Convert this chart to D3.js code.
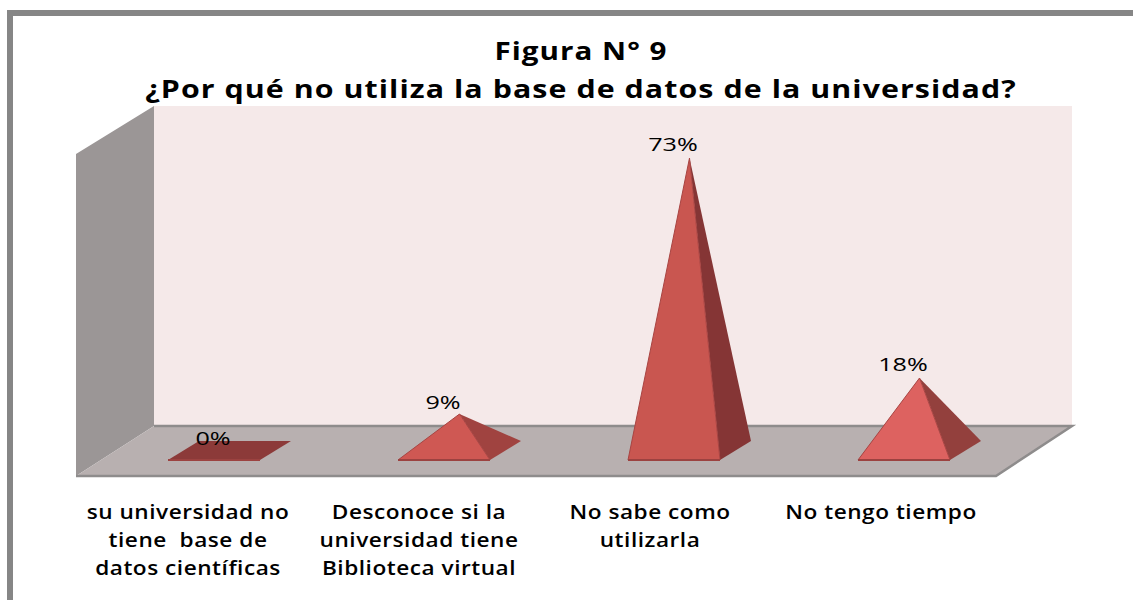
<!DOCTYPE html>
<html>
<head>
<meta charset="utf-8">
<script src="https://cdnjs.cloudflare.com/ajax/libs/d3/7.8.5/d3.min.js"></script>
<style>
  html, body { margin: 0; padding: 0; background: #fff; overflow: hidden; }
  text { font-family: "Open Sans", sans-serif; fill: #000; }
</style>
</head>
<body>
<div id="chart"></div>
<script>
var titleLines = ["Figura N° 9", "¿Por qué no utiliza la base de datos de la universidad?"];
var categories = ["cat1", "cat2", "cat3", "cat4"];
var categoryLabels = [
  ["su universidad no", "tiene  base de", "datos científicas"],
  ["Desconoce si la", "universidad tiene", "Biblioteca virtual"],
  ["No sabe como", "utilizarla"],
  ["No tengo tiempo"]
];
var values = [0, 9, 73, 18];
var frontColors = ["#8c3a39", "#cf5853", "#c95650", "#dd6260"];
var sideColors = ["#8c3a39", "#a04340", "#853535", "#93403d"];

(function() {
  var height = 600,
      width = 1133;

  var svg = d3.select("#chart")
        .append("svg")
        .attr("height", height)
        .attr("width", width)
        .style("display", "block");

  // outer frame runs off the right and bottom of the picture
  svg.append("rect")
    .attr("x", 10).attr("y", 13)
    .attr("width", 1140).attr("height", 620)
    .attr("fill", "#fff")
    .attr("stroke", "#868686")
    .attr("stroke-width", 6);

  var wall = { left: 154, right: 1072, top: 106, floor: 426 },
      front = { left: 76, right: 996, y: 476 },
      depthX = 31,
      depthY = -19;

  // x positions of the pyramid bases
  var x = d3.scaleBand()
    .domain(categories)
    .range([168, 950])
    .paddingInner(0.6)
    .paddingOuter(0);

  // labels sit under the front edge of the floor
  var xLabel = d3.scaleBand()
    .domain(categories)
    .range([72.5, 996.5]);

  var y = d3.scaleLinear()
    .domain([0, 73])
    .range([450, 158]);

  var line = d3.line();

  svg.append("path")
    .attr("d", line([[wall.left, wall.top], [wall.right, wall.top], [wall.right, wall.floor], [wall.left, wall.floor]]) + "Z")
    .attr("fill", "#f5e9e9");

  svg.append("path")
    .attr("d", line([[front.left, 154], [wall.left, wall.top], [wall.left, wall.floor], [front.left, front.y]]) + "Z")
    .attr("fill", "#9b9696");

  svg.append("path")
    .attr("d", line([[front.left, front.y], [wall.left, wall.floor], [wall.right, wall.floor], [front.right, front.y]]) + "Z")
    .attr("fill", "#b8b0b0");

  svg.append("path")
    .attr("d", line([[front.left, front.y], [front.right, front.y], [wall.right, wall.floor], [wall.left, wall.floor]]))
    .attr("fill", "none")
    .attr("stroke", "#8e8c8c")
    .attr("stroke-width", 2.5);

  var baseY = 460;

  var pyramids = svg.selectAll(".pyramid")
    .data(categories)
    .enter().append("g")
    .attr("class", "pyramid");

  function corners(d, i) {
    var l = x(d),
        r = l + x.bandwidth(),
        apex = [l + (x.bandwidth() + depthX) / 2, y(values[i])];
    return { l: l, r: r, apex: apex };
  }

  // flat one (0%) still draws its base
  pyramids.filter(function(d) { return values[categories.indexOf(d)] === 0; })
    .append("path")
    .attr("d", function(d) {
      var c = corners(d, categories.indexOf(d));
      return line([[c.l, baseY], [c.r, baseY], [c.r + depthX, baseY + depthY], [c.l + depthX, baseY + depthY]]) + "Z";
    })
    .attr("fill", sideColors[0]);

  pyramids.filter(function(d) { return values[categories.indexOf(d)] > 0; })
    .each(function(d) {
      var i = categories.indexOf(d),
          c = corners(d, i),
          g = d3.select(this);

      g.append("path")
        .attr("d", line([[c.r, baseY], [c.r + depthX, baseY + depthY], c.apex]) + "Z")
        .attr("fill", sideColors[i]);

      g.append("path")
        .attr("d", line([[c.l, baseY], [c.r, baseY], c.apex]) + "Z")
        .attr("fill", frontColors[i])
        .attr("stroke", "#a84442")
        .attr("stroke-width", 1);
    });

  // darker base line
  pyramids.append("line")
    .attr("x1", function(d) { return x(d); })
    .attr("x2", function(d) { return x(d) + x.bandwidth(); })
    .attr("y1", baseY)
    .attr("y2", baseY)
    .attr("stroke", "#9c4240")
    .attr("stroke-width", 2);

  // text in the picture is stretched sideways, so stretch it here too
  function stretched(cx, sx) {
    return "translate(" + cx + ",0) scale(" + sx + ",1)";
  }

  // value labels
  svg.selectAll(".value")
    .data(categories)
    .enter().append("text")
    .attr("class", "value")
    .attr("transform", function(d) { return stretched(x(d) + x.bandwidth() / 2 - 1, 1.4); })
    .attr("y", function(d, i) { return values[i] === 9 ? 409 : y(values[i]) - (values[i] === 0 ? 5 : 7); })
    .attr("text-anchor", "middle")
    .attr("font-size", 18)
    .attr("font-weight", 500)
    .text(function(d, i) { return values[i] + "%"; });

  // category labels
  svg.selectAll(".cat")
    .data(categories)
    .enter().append("text")
    .attr("class", "cat")
    .attr("transform", function(d) { return stretched(xLabel(d) + xLabel.bandwidth() / 2, 1.16); })
    .attr("text-anchor", "middle")
    .attr("font-size", 19.5)
    .attr("font-weight", 600)
    .attr("letter-spacing", "0.45px")
    .attr("xml:space", "preserve")
    .each(function(d, i) {
      d3.select(this).selectAll("tspan")
        .data(categoryLabels[i])
        .enter().append("tspan")
        .attr("x", 0)
        .attr("y", function(t, j) { return 519 + j * 28; })
        .text(function(t) { return t; });
    });

  svg.selectAll(".title")
    .data(titleLines)
    .enter().append("text")
    .attr("class", "title")
    .attr("transform", function(d, i) { return stretched(581, i === 0 ? 1.16 : 1.19); })
    .attr("y", function(d, i) { return 60 + i * 38; })
    .attr("text-anchor", "middle")
    .attr("font-size", 25.5)
    .attr("font-weight", 700)
    .attr("letter-spacing", "0.9px")
    .text(function(d) { return d; });
})()
</script>
</body>
</html>
